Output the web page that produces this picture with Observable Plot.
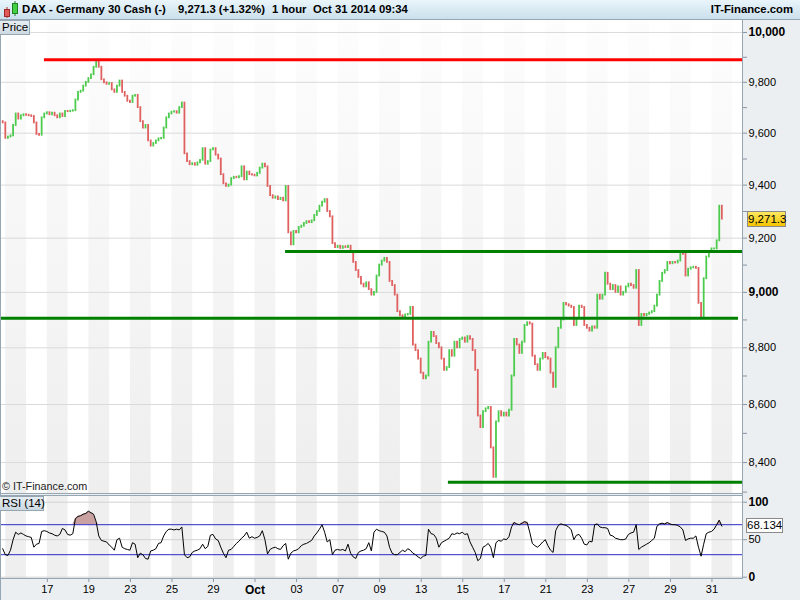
<!DOCTYPE html>
<html><head><meta charset="utf-8">
<script src="https://cdn.jsdelivr.net/npm/d3@7"></script>
<script src="https://cdn.jsdelivr.net/npm/@observablehq/plot@0.6"></script>
<style>
body{margin:0;background:#fff;font-family:"Liberation Sans",Arial,sans-serif;}
#wrap{position:relative;width:800px;height:600px;background:#eceff2;overflow:hidden;}
.abs{position:absolute;}
#title{left:0;top:0;width:800px;height:19px;background:linear-gradient(#e9f5fb,#cbe0ec);border-bottom:1px solid #97a6b3;font-weight:bold;font-size:11.3px;color:#000;}
.t{position:absolute;top:3px;white-space:nowrap;}
.lbl{font-size:11.5px;white-space:nowrap;background:linear-gradient(#e6eef3,#cdd9e1);border:1px solid #97a6b3;border-left:none;box-sizing:border-box;padding-left:2px;line-height:13px;}
.line{position:absolute;background:#97a6b3;}
svg{position:absolute;left:0;}
</style></head>
<body>
<div id="wrap">
  <div id="title" class="abs">
    <svg width="18" height="19" style="left:2px;top:0">
      <line x1="5" y1="7" x2="5" y2="18" stroke="#b03030"/>
      <rect x="2.5" y="9.5" width="5" height="7" fill="#e05a5a" stroke="#a02828"/>
      <line x1="13" y1="1" x2="13" y2="16" stroke="#208020"/>
      <rect x="10.5" y="3.5" width="5" height="10" fill="#44d044" stroke="#208020"/>
    </svg>
    <span class="t" style="left:22px">DAX - Germany 30 Cash (-)</span>
    <span class="t" style="left:178px">9,271.3 (+1.32%)</span>
    <span class="t" style="left:272px">1 hour</span>
    <span class="t" style="left:313px">Oct 31 2014 09:34</span>
    <span class="t" style="right:7px">IT-Finance.com</span>
  </div>
  <div class="abs" style="left:1px;top:20px;width:741px;height:473px;background:#fff"></div>
  <div class="abs" style="left:1px;top:496px;width:741px;height:82px;background:#fff"></div>
  <div id="priceHost"></div>
  <div id="rsiHost"></div>
  <div class="line" style="left:0;top:20px;width:1px;height:580px"></div>
  <div class="line" style="left:0;top:493px;width:742px;height:1px"></div>
  <div class="line" style="left:0;top:495px;width:742px;height:1px"></div>
  <div class="line" style="left:0;top:578px;width:742px;height:1px"></div>
  <div class="line" style="left:742px;top:20px;width:1px;height:559px"></div>
  <div class="abs lbl" style="left:0;top:20px;width:30px;height:15px">Price</div>
  <div class="abs lbl" style="left:0;top:496px;width:44px;height:15px">RSI (14)</div>
  <div class="abs" style="left:2px;top:480px;font-size:10.8px;color:#222;white-space:nowrap">© IT-Finance.com</div>
  <div id="priceTag" class="abs" style="left:747px;width:39px;height:16px;background:linear-gradient(#ffe860,#f5c400);border:1px solid #8a8a8a;box-sizing:border-box;font-size:11.5px;line-height:14px;text-align:center">9,271.3</div>
  <div id="rsiTag" class="abs" style="left:746px;width:37px;height:15px;background:#fff;border:1px solid #8a8a8a;box-sizing:border-box;font-size:11.5px;line-height:13px;text-align:center">68.134</div>
</div>
<script>
// ---- data (one point every 3 hours, trading-day axis; day 0 = Sep 15 2014) ----
const startDay = -0.149;
const stepDay = 0.125;
const firstOpen = 9645;
const closes = [
 9640,9580,9585,9590,9630,9675,9655,9668,9672,9670,
 9668,9665,9640,9595,9592,9660,9675,9680,9672,9678,
 9668,9660,9675,9665,9685,9684,9686,9688,9730,9760,
 9765,9785,9800,9815,9830,9860,9885,9860,9810,9798,
 9792,9795,9770,9760,9785,9805,9760,9745,9725,9720,
 9745,9748,9700,9645,9620,9630,9570,9550,9560,9570,
 9578,9580,9620,9660,9675,9682,9684,9678,9700,9718,
 9520,9490,9478,9482,9476,9485,9495,9540,9480,9490,
 9535,9540,9515,9500,9440,9405,9395,9400,9425,9430,
 9428,9432,9470,9420,9450,9440,9438,9435,9445,9465,
 9480,9470,9395,9360,9350,9355,9345,9350,9340,9395,
 9220,9175,9225,9220,9240,9245,9255,9262,9258,9265,
 9285,9300,9320,9335,9345,9300,9280,9180,9165,9170,
 9162,9168,9165,9170,9150,9110,9080,9055,9030,9020,
 9035,9010,8990,9000,9060,9100,9115,9125,9110,9040,
 9025,8990,8930,8915,8910,8918,8920,8945,8810,8790,
 8760,8710,8690,8700,8820,8855,8840,8815,8800,8760,
 8720,8730,8790,8770,8820,8800,8830,8835,8820,8840,
 8830,8790,8720,8560,8520,8575,8585,8590,8450,8350,
 8540,8575,8560,8570,8560,8580,8700,8830,8810,8780,
 8820,8880,8890,8885,8770,8740,8720,8760,8780,8765,
 8760,8710,8660,8800,8870,8900,8960,8955,8950,8945,
 8880,8905,8950,8945,8880,8870,8860,8875,8870,8990,
 8975,8990,9070,9030,9010,9025,9000,9020,8990,9000,
 9020,9030,9025,9015,9080,8880,8920,8915,8920,8925,
 8930,8950,8990,9040,9070,9080,9110,9105,9110,9108,
 9115,9145,9140,9060,9085,9090,9092,9088,8960,8910,
 9050,9130,9150,9160,9160,9190,9320,9271.3];
const rsiValues = [
 38,30,29,36,50,60,57,59,57,55,
 54,53,40,44,45,61,62,61,59,58,
 56,55,57,65,63,57,56,58,78,81,
 82,84,85,88,86,84,74,55,49,48,
 47,43,40,36,50,52,40,38,37,36,
 46,44,26,32,30,25,24,35,36,38,
 45,46,55,61,64,64,63,64,63,67,
 30,26,27,33,35,36,38,44,38,41,
 56,57,51,49,40,32,26,36,37,41,
 45,48,52,55,60,52,54,52,53,55,
 62,50,31,37,39,40,38,37,42,45,
 24,32,35,36,38,42,44,45,47,49,
 55,59,64,70,60,47,50,30,36,37,
 36,37,35,44,32,27,25,33,35,36,
 38,46,35,60,64,62,61,60,55,40,
 32,30,30,33,36,34,38,36,32,30,
 27,25,28,29,64,58,57,52,40,46,
 48,50,52,58,57,59,58,60,57,58,
 47,40,33,22,25,40,42,45,40,26,
 46,49,48,51,50,54,67,73,71,70,
 72,74,73,60,45,42,40,43,47,50,
 42,36,33,62,69,71,70,69,67,63,
 50,56,57,52,44,43,48,47,70,71,
 67,66,66,65,56,55,52,51,50,50,
 51,57,59,60,70,37,40,42,44,46,
 49,52,68,71,72,71,73,71,70,70,
 69,67,63,49,51,52,52,55,40,28,
 44,58,60,61,64,70,76,68.134];
// trading-day ticks (every second trading day)
const tickDays = [2,4,6,8,10,12,14,16,18,20,22,24,26,28,30,32,34];
const tickLabels = ["17","19","23","25","29","Oct","03","07","09","13","15","17","21","23","27","29","31"];
const shadedDays = [0,2,4,6,8,10,12,14,16,18,20,22,24,26,28,30,32,34];
// horizontal support/resistance lines
const levelValue = [9890, 9150, 8906, 8333];
const levelFrom = [1.86, 13.47, -0.21, 21.31];
const levelTo = [35.47, 35.47, 35.28, 35.47];
const levelColor = ["#ff0000", "#008000", "#008000", "#008000"];
// axes
const priceMajor = [9000, 10000];
const priceLabeled = [8400, 8600, 8800, 9200, 9400, 9600, 9800];
const priceMinor = [8300, 8500, 8700, 8900, 9100, 9300, 9500, 9700, 9900];
const rsiLevels = [30, 70];

const xDomain = [-0.207, 35.47];
const candles = closes.map((c, i) => ({d: startDay + i * stepDay, open: i ? closes[i - 1] : firstOpen, close: c}));
const rsiRows = rsiValues.map((r, i) => ({d: startDay + i * stepDay, rsi: r}));
const levels = levelValue.map((v, i) => ({value: v, from: levelFrom[i], to: levelTo[i], color: levelColor[i]}));

const style = {background: "transparent", fontFamily: "Liberation Sans, Arial, sans-serif", fontSize: "11px", color: "#000", overflow: "visible"};
const UP = "#4ccb4c", DOWN = "#e0605f";

const pricePlot = Plot.plot({
  width: 800, height: 473, marginLeft: 1, marginRight: 58, marginTop: 0, marginBottom: 0,
  style, color: {type: "identity"},
  x: {domain: xDomain, axis: null, label: null},
  y: {type: "log", domain: [8295.3, 10048.7], axis: null, label: null},
  marks: [
    Plot.rect(shadedDays, {x1: d => d, x2: d => d + 1, fill: "url(#bandGrad)"}),
    Plot.gridY(priceMajor.concat(priceLabeled), {stroke: "#dadada", strokeOpacity: 1}),
    Plot.ruleX(candles, {x: "d", y1: "open", y2: "close", stroke: d => d.close >= d.open ? UP : DOWN, strokeWidth: 1.8, strokeLinecap: "square"}),
    Plot.ruleY(levels, {y: "value", x1: "from", x2: "to", stroke: "color", strokeWidth: 3}),
    Plot.axisY(priceMajor, {anchor: "right", label: null, tickSize: 4, tickPadding: 2, tickFormat: ",", fontWeight: "bold", fontSize: 12, stroke: "#8795a3", fill: "#000"}),
    Plot.axisY(priceLabeled, {anchor: "right", label: null, tickSize: 4, tickPadding: 2, tickFormat: ",", stroke: "#8795a3", fill: "#000"}),
    Plot.axisY(priceMinor, {anchor: "right", label: null, tickSize: 4, tickFormat: () => "", stroke: "#8795a3"})
  ]
});
pricePlot.style.top = "20px";
const defs = d3.select(pricePlot).insert("defs", ":first-child");
const grad = defs.append("linearGradient").attr("id", "bandGrad").attr("x1", 0).attr("y1", 0).attr("x2", 0).attr("y2", 1);
grad.append("stop").attr("offset", "0%").attr("stop-color", "#fdfdfd");
grad.append("stop").attr("offset", "100%").attr("stop-color", "#eeeeee");
document.getElementById("priceHost").appendChild(pricePlot);

const rsiPlot = Plot.plot({
  width: 800, height: 104, marginLeft: 1, marginRight: 58, marginTop: 0, marginBottom: 22,
  style, color: {type: "identity"},
  x: {domain: xDomain, axis: null, label: null},
  y: {domain: [-1.73, 107.6], axis: null, label: null},
  marks: [
    Plot.rect(shadedDays, {x1: d => d, x2: d => d + 1, fill: "#efefef"}),
    Plot.gridY([0, 50, 100], {stroke: "#d2d2d2", strokeOpacity: 1}),
    Plot.areaY(rsiRows, {x: "d", y1: () => 70, y2: d => Math.max(70, d.rsi), fill: "#c9a1a1"}),
    Plot.ruleY(rsiLevels, {stroke: "#2b2bc9", strokeWidth: 1}),
    Plot.lineY(rsiRows, {x: "d", y: "rsi", stroke: "#000", strokeWidth: 1}),
    Plot.axisY([0, 100], {anchor: "right", label: null, tickSize: 4, tickPadding: 2, fontWeight: "bold", fontSize: 12, stroke: "#8795a3", fill: "#000"}),
    Plot.axisY([50], {anchor: "right", label: null, tickSize: 4, tickPadding: 2, stroke: "#8795a3", fill: "#000"}),
    Plot.axisX(tickDays, {anchor: "bottom", label: null, tickSize: 4, tickPadding: 3, tickFormat: d => tickLabels[tickDays.indexOf(d)], stroke: "#8795a3", fill: "#000"})
  ]
});
rsiPlot.style.top = "496px";
d3.select(rsiPlot).selectAll("text").filter(function () { return this.textContent === "Oct"; }).attr("font-weight", "bold").attr("font-size", 12);
document.getElementById("rsiHost").appendChild(rsiPlot);

// value tags positioned through the plots' own scales
const yP = pricePlot.scale("y").apply(closes[closes.length - 1]);
document.getElementById("priceTag").style.top = (20 + yP - 8) + "px";
const yR = rsiPlot.scale("y").apply(rsiValues[rsiValues.length - 1]);
document.getElementById("rsiTag").style.top = (496 + yR - 7.5) + "px";
</script>
</body></html>
